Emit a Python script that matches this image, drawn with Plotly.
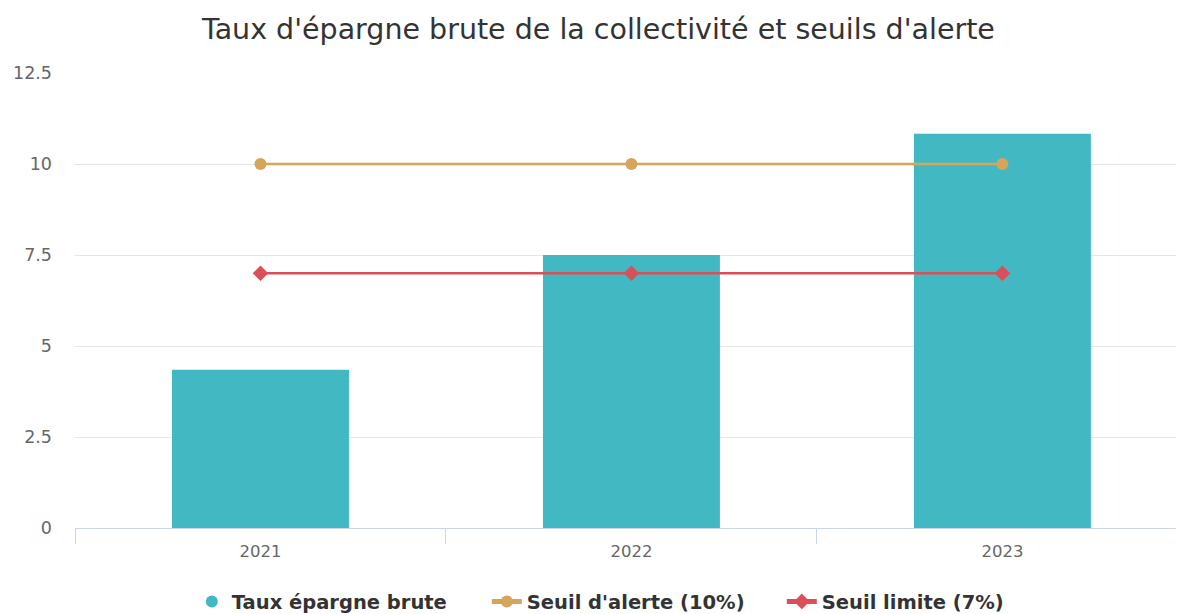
import plotly.graph_objects as go

years = ["2021", "2022", "2023"]
taux_epargne = [4.35, 7.5, 10.83]
seuil_alerte = [10, 10, 10]
seuil_limite = [7, 7, 7]

c_bar = "#42b8c2"
c_alerte = "#d4a55a"
c_limite = "#db4f58"
font_family = "DejaVu Sans, Verdana, sans-serif"

fig = go.Figure()
fig.add_trace(go.Bar(x=years, y=taux_epargne, name="Taux épargne brute",
                     marker=dict(color=c_bar, line=dict(width=0)), showlegend=False))
# legend proxy with circle symbol
fig.add_trace(go.Scatter(x=[None], y=[None], mode="markers", name="Taux épargne brute",
                         marker=dict(symbol="circle", size=17, color=c_bar)))
fig.add_trace(go.Scatter(x=years, y=seuil_alerte, mode="lines+markers", name="Seuil d'alerte (10%)",
                         line=dict(color=c_alerte, width=2.5),
                         marker=dict(symbol="circle", size=12, color=c_alerte)))
fig.add_trace(go.Scatter(x=years, y=seuil_limite, mode="lines+markers", name="Seuil limite (7%)",
                         line=dict(color=c_limite, width=2.5),
                         marker=dict(symbol="diamond", size=12, color=c_limite)))

fig.update_layout(
    width=1178, height=614,
    paper_bgcolor="white", plot_bgcolor="white",
    font=dict(family=font_family, color="#666666", size=16),
    title=dict(text="Taux d'épargne brute de la collectivité et seuils d'alerte",
               x=0.508, xanchor="center", y=0.953, yanchor="middle",
               font=dict(size=28.5, color="#333333", family=font_family)),
    margin=dict(l=75, r=2, t=73, b=86, autoexpand=False),
    bargap=0.523,
    legend=dict(orientation="h", x=0.508, xanchor="center", y=-0.162, yanchor="middle",
                font=dict(size=19.5, color="#333333", family=font_family, weight="bold"),
                itemsizing="constant", traceorder="normal", entrywidth=250, itemwidth=30),
    xaxis=dict(type="category", range=[-0.5, 2.468], showline=True, linecolor="#ccd6eb", linewidth=1,
               ticks="outside", tickson="boundaries", ticklen=15, tickcolor="#ccd6eb",
               tickfont=dict(size=16.5, color="#666666"), showgrid=False,
               automargin=False, ticklabelstandoff=8),
    yaxis=dict(range=[0, 12.5], dtick=2.5, showgrid=True, gridcolor="#e6e6e6",
               zeroline=False, tickfont=dict(size=17.5, color="#666666"),
               ticklabelstandoff=22, automargin=False),
)

fig.write_html("out.html", config={"displayModeBar": False},
               post_script="document.body.style.margin='0px';")
